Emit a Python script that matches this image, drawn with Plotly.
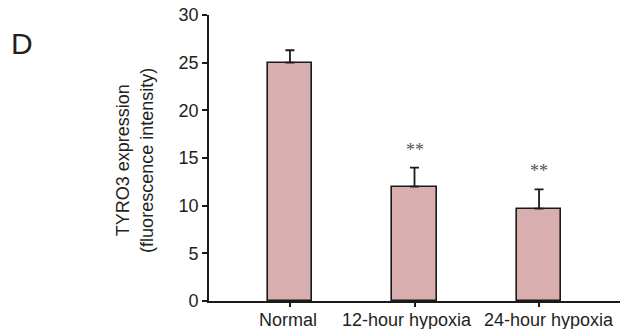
import plotly.graph_objects as go

categories = ["Normal", "12-hour hypoxia", "24-hour hypoxia"]
values = [25.0, 12.0, 9.7]
errors_up = [1.3, 2.0, 2.0]
significance = ["", "**", "**"]
y_ticks = [0, 5, 10, 15, 20, 25, 30]
label_shift_px = [-2, -8, 10]

FONT = "Liberation Sans, Arial, sans-serif"
TEXT = "#231f20"

fig = go.Figure()
fig.add_trace(go.Bar(
    x=list(range(len(categories))),
    y=values,
    width=0.355,
    marker=dict(color="#d9aeae", line=dict(color="#1a1a1a", width=1.6)),
    error_y=dict(type="data", symmetric=False, array=errors_up,
                 arrayminus=[0] * len(values), color="#1a1a1a",
                 thickness=1.8, width=4.5),
    showlegend=False,
))

for i, (v, e, s) in enumerate(zip(values, errors_up, significance)):
    if s:
        fig.add_annotation(x=i, y=v + e, text=s, showarrow=False,
                           yanchor="bottom", yshift=6,
                           font=dict(family="Liberation Serif, Times New Roman, serif",
                                     size=18, color="#555555"))

for i, (c, dx) in enumerate(zip(categories, label_shift_px)):
    fig.add_annotation(x=i, xref="x", y=0, yref="paper", text=c, showarrow=False,
                       xanchor="center", yanchor="top", yshift=-7, xshift=dx,
                       font=dict(family=FONT, size=18, color=TEXT))

fig.add_annotation(xref="paper", yref="paper", x=-0.18, y=0.49,
                   text="TYRO3 expression<br>(fluorescence intensity)",
                   textangle=-90, showarrow=False, xanchor="center", yanchor="middle",
                   font=dict(family=FONT, size=18, color=TEXT))

fig.add_annotation(xref="paper", yref="paper", x=-0.454, y=0.899,
                   text="D", showarrow=False, xanchor="center", yanchor="middle",
                   font=dict(family=FONT, size=30, color=TEXT))

fig.update_layout(
    width=620, height=329,
    margin=dict(l=209, r=0, t=15, b=28, autoexpand=False),
    plot_bgcolor="white", paper_bgcolor="white",
    font=dict(family=FONT, size=18, color=TEXT),
    bargap=0,
)
fig.update_xaxes(
    range=[-0.65, 2.65], automargin=False,
    tickmode="array", tickvals=list(range(len(categories))), showticklabels=False,
    showline=True, linecolor="#1a1a1a", linewidth=2.2,
    ticks="outside", ticklen=4, tickwidth=1.5, tickcolor="#1a1a1a",
    showgrid=False, zeroline=False,
)
fig.update_yaxes(
    range=[0, 30], automargin=False,
    tickmode="array", tickvals=y_ticks,
    showline=True, linecolor="#1a1a1a", linewidth=1.6,
    ticks="outside", ticklen=5, tickwidth=1.5, tickcolor="#1a1a1a",
    showgrid=False, zeroline=False,
    tickfont=dict(family=FONT, size=18, color=TEXT),
)

fig.write_html("out.html",
               config={"displayModeBar": False},
               post_script="document.body.style.margin='0';document.body.style.overflow='hidden';")
